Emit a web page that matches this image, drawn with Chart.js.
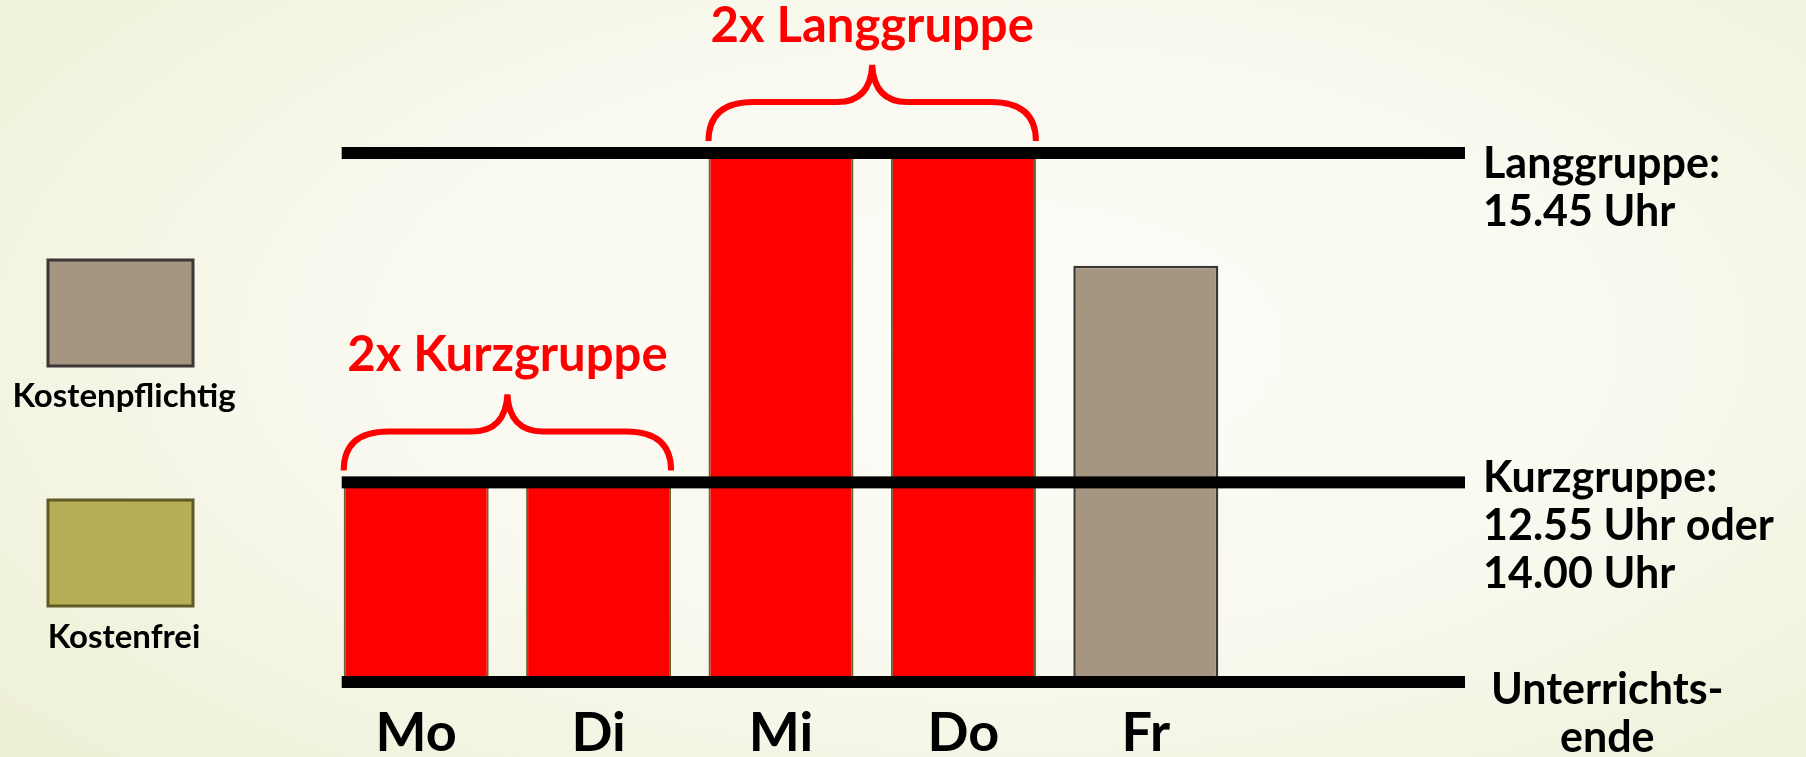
<!DOCTYPE html>
<html>
<head>
<meta charset="utf-8">
<script src="https://cdn.jsdelivr.net/npm/chart.js@4.4.1/dist/chart.umd.min.js"></script>
<style>
  html, body { margin: 0; padding: 0; }
  body {
    width: 1806px; height: 757px; overflow: hidden;
    background: radial-gradient(ellipse 70% 80% at 55% 45%, #fdfdf9 0%, #f9f9f0 50%, #eef0d6 100%);
  }
</style>
</head>
<body>
<canvas id="chart" width="1806" height="757"></canvas>
<script>
const days = ['Mo', 'Di', 'Mi', 'Do', 'Fr']
const kostenfrei = [2, 2, 5.3, 5.3, null]
const kostenpflichtig = [null, null, null, null, 4.17]

// Unterrichtsende, Kurzgruppe, Langgruppe
const levels = [0, 2, 5.3]
const levelLabels = [
    ['Unterrichts-', 'ende'],
    ['Kurzgruppe:', '12.55 Uhr oder', '14.00 Uhr'],
    ['Langgruppe:', '15.45 Uhr']
]

const braceLabels = ['2x Kurzgruppe', '2x Langgruppe']
const braceGroups = [[0, 1], [2, 3]]

const legendNames = ['Kostenpflichtig', 'Kostenfrei']
const legendColors = ['#a59581', '#b5ae55']
const legendBorders = ['#3b3737', '#5f5a26']

const overlay = {
    id: 'overlay',
    afterDatasetsDraw(chart) {
        const { ctx, chartArea, scales: { y } } = chart
        const bars = chart.getDatasetMeta(0).data
        const left = bars[0].x - bars[0].width / 2 - 2
        const right = chartArea.right + 228
        // first text line sits a bit under each time line
        const firstLine = [22, 10, 25]

        ctx.save()
        levels.forEach((v, i) => {
            const py = y.getPixelForValue(v)
            ctx.fillStyle = '#000'
            ctx.fillRect(left, py - 6, right - left, 12)

            ctx.font = 'bold 43px Lato'
            ctx.textBaseline = 'alphabetic'
            const lines = levelLabels[i]
            let x = right + 18
            if (i === 0) {
                ctx.textAlign = 'center'
                x = right + 26 + ctx.measureText(lines[0]).width / 2
            } else {
                ctx.textAlign = 'left'
            }
            lines.forEach((t, k) => ctx.fillText(t, x, py + firstLine[i] + k * 48))
        })

        // curly braces over the groups
        ctx.strokeStyle = '#ff0000'
        ctx.fillStyle = '#ff0000'
        ctx.lineWidth = 6
        braceGroups.forEach((g, i) => {
            const a = bars[g[0]]
            const b = bars[g[1]]
            const x0 = a.x - a.width / 2
            const x1 = b.x + b.width / 2
            const cx = (x0 + x1) / 2
            const base = y.getPixelForValue(kostenfrei[g[0]])
            const yEnd = base - 12
            const yH = base - 51
            const yTip = base - 88

            ctx.beginPath()
            ctx.moveTo(x0, yEnd)
            ctx.quadraticCurveTo(x0, yH, x0 + 45, yH)
            ctx.lineTo(cx - 35, yH)
            ctx.quadraticCurveTo(cx - 2, yH, cx, yTip)
            ctx.quadraticCurveTo(cx + 2, yH, cx + 35, yH)
            ctx.lineTo(x1 - 45, yH)
            ctx.quadraticCurveTo(x1, yH, x1, yEnd)
            ctx.stroke()

            ctx.font = 'bold 49px Lato'
            ctx.textAlign = 'center'
            ctx.fillText(braceLabels[i], cx, base - 111)
        })
        ctx.restore()
    },
    afterDraw(chart) {
        const { ctx } = chart
        ctx.save()
        const boxTops = [260, 500]
        const textBase = [407, 648]
        legendNames.forEach((name, i) => {
            ctx.fillStyle = legendColors[i]
            ctx.fillRect(48, boxTops[i], 145, 106)
            ctx.strokeStyle = legendBorders[i]
            ctx.lineWidth = 3
            ctx.strokeRect(48, boxTops[i], 145, 106)
            ctx.fillStyle = '#000'
            ctx.font = 'bold 33px Lato'
            ctx.textAlign = 'center'
            ctx.fillText(name, 124, textBase[i])
        })
        ctx.restore()
    }
}

const chart = new Chart(document.getElementById('chart'), {
    type: 'bar',
    data: {
        labels: days,
        datasets: [
            {
                label: legendNames[1],
                data: kostenfrei,
                backgroundColor: '#ff0000',
                borderColor: '#676433',
                borderWidth: 2,
                borderSkipped: false,
                barPercentage: 0.795,
                categoryPercentage: 1
            },
            {
                label: legendNames[0],
                data: kostenpflichtig,
                backgroundColor: '#a59581',
                borderColor: '#3b3737',
                borderWidth: 2.5,
                borderSkipped: false,
                barPercentage: 0.795,
                categoryPercentage: 1
            }
        ]
    },
    options: {
        responsive: false,
        animation: false,
        layout: { padding: { left: 325, right: 569, top: 153, bottom: 0 } },
        plugins: { legend: { display: false }, tooltip: { enabled: false } },
        scales: {
            x: {
                stacked: true,
                grid: { display: false, drawTicks: false },
                border: { display: false },
                afterFit: (scale) => { scale.height = 75 },
                ticks: {
                    color: '#000',
                    padding: 25,
                    font: { family: 'Lato', weight: 'bold', size: 54, lineHeight: 1 }
                }
            },
            y: { stacked: true, display: false, min: 0, max: 5.3 }
        }
    },
    plugins: [overlay]
})
</script>
</body>
</html>
